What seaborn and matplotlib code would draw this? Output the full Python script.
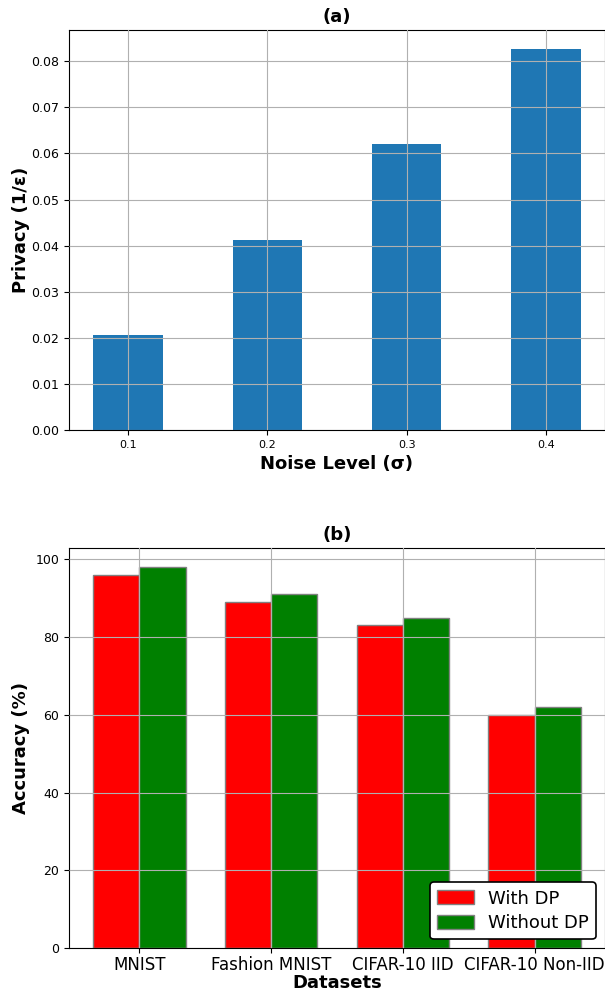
import numpy as np
import pandas as pd
import seaborn as sns
import matplotlib
matplotlib.use('Agg')
import matplotlib.pyplot as plt

# data
noise_levels = ['0.1', '0.2', '0.3', '0.4']
privacy = [0.0207, 0.0413, 0.0620, 0.0827]

datasets = ['MNIST', 'Fashion MNIST', 'CIFAR-10 IID', 'CIFAR-10 Non-IID']
acc_with_dp = [96, 89, 83, 60]
acc_without_dp = [98, 91, 85, 62]

df_acc = pd.DataFrame({
    'Dataset': datasets * 2,
    'Accuracy': acc_with_dp + acc_without_dp,
    'Type': ['With DP'] * 4 + ['Without DP'] * 4,
})

fig, (ax1, ax2) = plt.subplots(2, 1, figsize=(6.05, 9.97), dpi=100)
fig.subplots_adjust(left=0.114, right=1.0, top=0.970, bottom=0.049, hspace=0.295)

# (a) privacy vs noise
sns.barplot(x=noise_levels, y=privacy, color='#1f77b4', saturation=1, width=0.5, ax=ax1)
ax1.set_xlim(-0.425, 3.425)
ax1.set_ylim(0, 0.0868)
ax1.set_title('(a)', fontsize=13, fontweight='bold')
ax1.set_xlabel('Noise Level (σ)', fontsize=13, fontweight='bold')
ax1.set_ylabel('Privacy (1/ε)', fontsize=13, fontweight='bold', labelpad=1)
ax1.tick_params(axis='x', labelsize=8)
ax1.tick_params(axis='y', labelsize=9)
ax1.grid(True)
ax1.set_axisbelow(False)

# (b) accuracy with / without DP
sns.barplot(data=df_acc, x='Dataset', y='Accuracy', hue='Type',
            palette=['red', 'green'], saturation=1, width=0.7,
            edgecolor='grey', linewidth=1, ax=ax2)
ax2.set_xlim(-0.535, 3.535)
ax2.set_ylim(0, 102.9)
ax2.set_title('(b)', fontsize=13, fontweight='bold')
ax2.set_xlabel('Datasets', fontsize=13, fontweight='bold', labelpad=0)
ax2.set_ylabel('Accuracy (%)', fontsize=13, fontweight='bold')
ax2.tick_params(axis='x', labelsize=12, pad=2)
ax2.tick_params(axis='y', labelsize=9)
ax2.grid(True)
ax2.set_axisbelow(False)
leg = ax2.legend(loc='lower right', fontsize=13, edgecolor='black', framealpha=1,
                 labelspacing=0.35, borderpad=0.4, handleheight=0.8)
leg.get_frame().set_linewidth(1.2)

fig.savefig('out.png')
